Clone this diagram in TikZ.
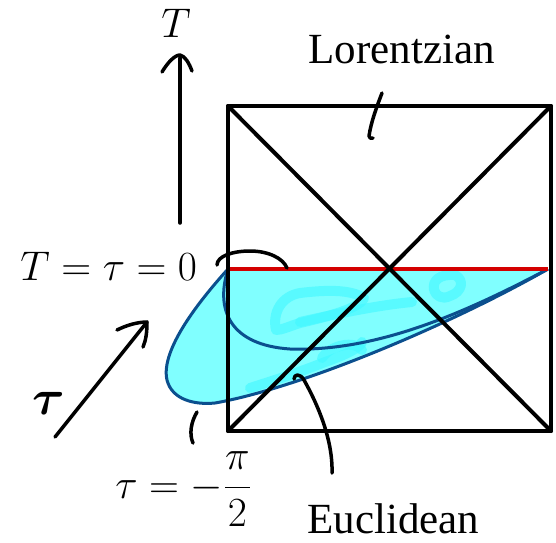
\documentclass[tikz,border=0pt]{standalone}
\usepackage{amsmath}
\usepackage[no-math]{fontspec}
\newfontfamily\labelfont{Liberation Serif}
\definecolor{fillcyan}{HTML}{80FFFF}
\definecolor{scrib}{HTML}{40F8FF}
\definecolor{edgeblue}{HTML}{0B4F8E}
\definecolor{redline}{HTML}{D40000}
\tikzset{
  frame/.style={line width=2pt, line join=round, line cap=round},
  pen/.style={line width=1.75pt, line cap=round, line join=round},
  blueline/.style={draw=edgeblue, line width=1.5pt, line join=round},
  scribble/.style={draw=scrib, line width=5pt, line cap=round, line join=round, opacity=0.6},
  txt/.style={inner sep=0pt, font=\fontsize{21.5}{26}\selectfont},
}
\begin{document}
\begin{tikzpicture}[x=0.5pt,y=-0.5pt]
\useasboundingbox (0,0) rectangle (556,542);
% square corners
\coordinate (TL) at (228,106);
\coordinate (TR) at (551,106);
\coordinate (BL) at (228,431);
\coordinate (BR) at (551,431);
\coordinate (ML) at (228,269);
\coordinate (MR) at (548,269);
% cyan region
\fill[fillcyan] (ML) .. controls (200,300) and (160,350) .. (167,380) .. controls (172,400) and (195,405) .. (215,403) .. controls (300,388) and (450,325) .. (MR) -- cycle;
% brighter scribbles
\draw[scribble] (276,330) .. controls (272,312) and (282,296) .. (300,293) .. controls (325,290) and (350,289) .. (364,298) .. controls (360,308) and (330,316) .. (300,323) .. controls (290,326) and (282,330) .. (276,330);
\draw[scribble] (300,322) .. controls (340,313) and (380,305) .. (412,302);
\draw[scribble] (250,388) .. controls (275,380) and (300,372) .. (325,362) .. controls (345,355) and (360,348) .. (362,342);
\draw[scribble] (322,358) .. controls (330,345) and (355,340) .. (362,350);
\draw[scribble] (434,290) .. controls (432,280) and (440,274) .. (455,275) .. controls (465,280) and (462,292) .. (450,296) .. controls (442,300) and (436,296) .. (434,290);
% blue outlines
\draw[blueline] (ML) .. controls (200,300) and (160,350) .. (167,380) .. controls (172,400) and (195,405) .. (215,403) .. controls (300,388) and (450,325) .. (MR);
\draw[blueline] (ML) .. controls (215,310) and (230,345) .. (290,349) .. controls (380,352) and (470,310) .. (MR);
% red line
\draw[redline, line width=1.6pt] (ML) -- (MR);
% square and diagonals
\draw[frame] (TL) -- (TR) -- (BR) -- (BL) -- cycle;
\draw[frame] (TL) -- (BR);
\draw[frame] (TR) -- (BL);
% T arrow
\coordinate (Ttail) at (180,223);
\coordinate (Ttip) at (180,58);
\draw[pen] (Ttail) -- (Ttip);
\draw[pen] (162,72) .. controls (168,62) and (175,55) .. (180,55) .. controls (185,56) and (189,63) .. (192,71);
% tau arrow
\coordinate (tautail) at (55,437);
\coordinate (tautip) at (147,322);
\draw[pen] (tautail) -- (tautip);
\draw[pen] (117,330) .. controls (127,325) and (138,322) .. (tautip) .. controls (147,332) and (146,340) .. (143,347);
% labels
\node[txt, anchor=base] (Tlab) at (176,37) {$T$};
\node[inner sep=0pt, font=\fontsize{22.3}{26}\selectfont, anchor=base west] (Tzero) at (20,280) {$T=\tau=0$};
\node[txt, anchor=base west] (taupi) at (115,498) {$\tau=-\dfrac{\pi}{2}$};
\node[inner sep=0pt, font=\fontsize{25}{30}\selectfont] (taulab) at (49,403) {$\boldsymbol{\tau}$};
\node[txt, anchor=base west] (lor) at (308,63) {\labelfont Lorentzian};
\node[txt, anchor=base west] (euc) at (307,533) {\labelfont Euclidean};
% pointer strokes
\draw[pen] (382,93) .. controls (377,106) and (371,122) .. (369,136) .. controls (369,138) and (371,139) .. (373,138);
\draw[pen] (217,265) .. controls (217,256) and (233,251) .. (250,251) .. controls (268,251) and (283,258) .. (287,268);
\draw[pen] (197,412) .. controls (191,422) and (189,434) .. (193,443);
\draw[pen] (294,379) .. controls (294,374) and (300,373) .. (304,380) .. controls (318,405) and (333,440) .. (332,473);
\end{tikzpicture}
\end{document}
